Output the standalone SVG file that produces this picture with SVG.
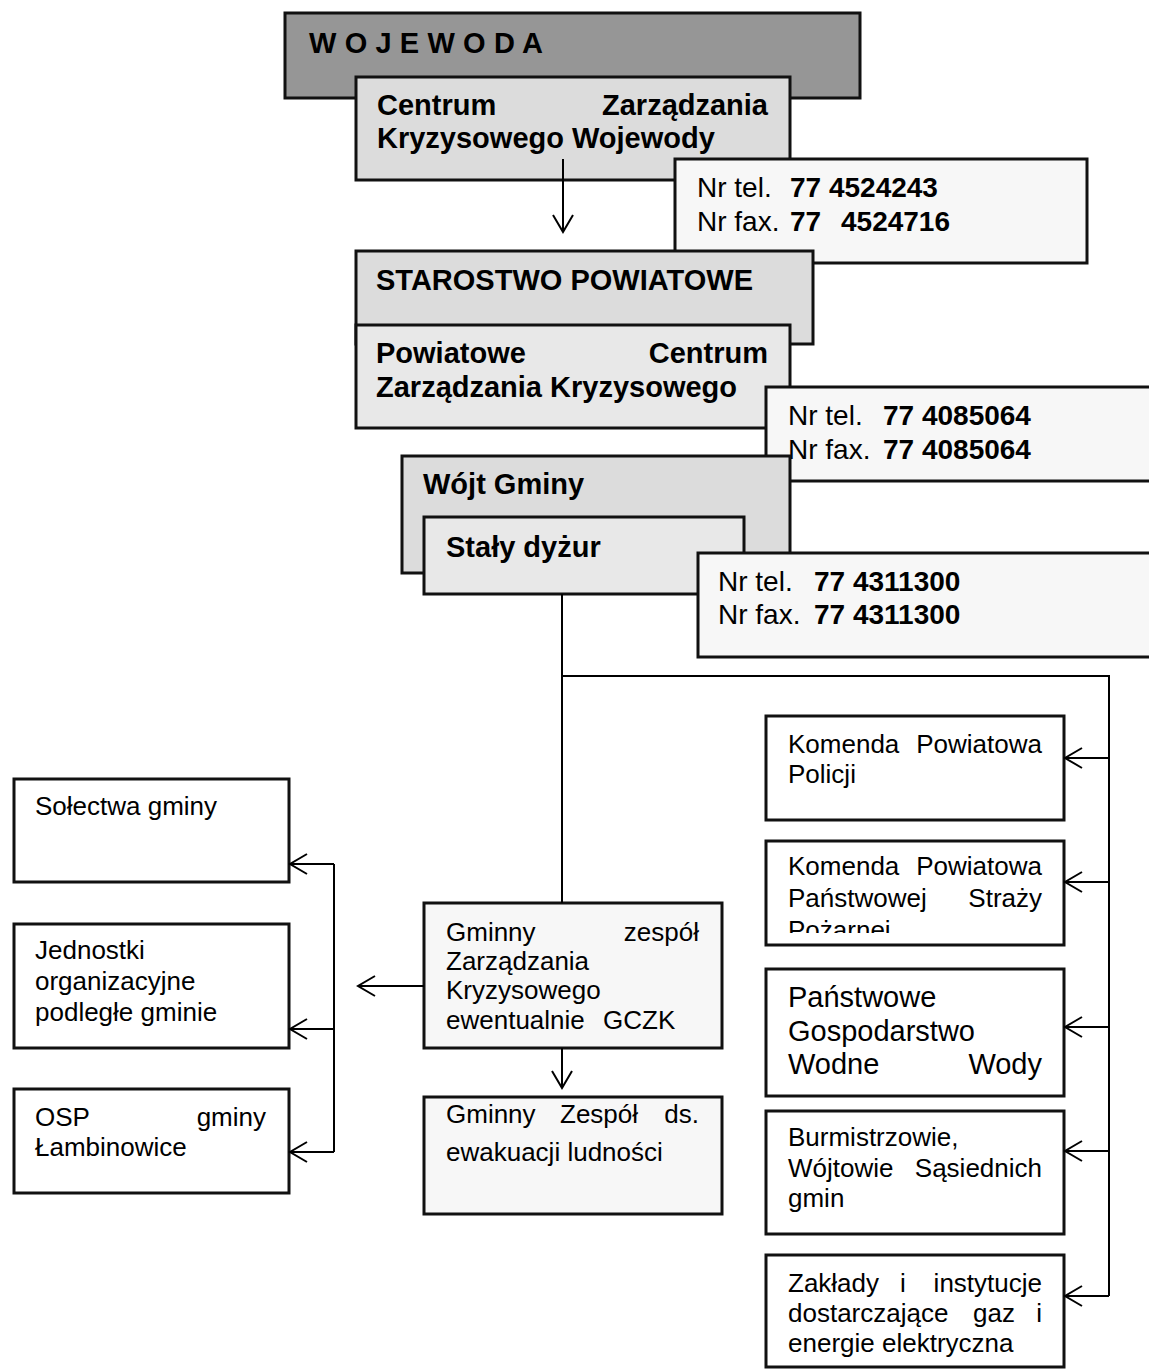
<svg xmlns="http://www.w3.org/2000/svg" width="1149" height="1372" viewBox="0 0 1149 1372">
<style>
.box{stroke:#111;stroke-width:3}
.dark{fill:#969696}
.mid{fill:#dcdcdc}
.light{fill:#e8e8e8}
.pale{fill:#f7f7f7}
.white{fill:#ffffff}
text{font-family:"Liberation Sans",Arial,sans-serif;fill:#000}
.h{font-size:29px;font-weight:bold}
.t{font-size:26px}
.t29{font-size:29px}
.p{font-size:28px}
.b{font-weight:bold}
.end{text-anchor:end}
.conn line,.conn polyline{stroke:#000;stroke-width:2;fill:none}
</style>
<defs>
<marker id="v" markerUnits="userSpaceOnUse" markerWidth="20" markerHeight="22" refX="18" refY="11" orient="auto" overflow="visible">
<path d="M1,1 L18,11 L1,21" fill="none" stroke="#000" stroke-width="2"/>
</marker>
<clipPath id="clipPsp"><rect x="766" y="841" width="298" height="92"/></clipPath>
</defs>

<g id="wojewoda">
<rect class="box dark" x="285" y="13" width="575" height="85"/>
<text class="h" x="309" y="53" font-size="26" textLength="234" lengthAdjust="spacing">W O J E W O D A</text>
</g>

<g id="czk-wojewody">
<rect class="box mid" x="356" y="77" width="434" height="103"/>
<text class="h" x="377" y="115">Centrum</text>
<text class="h end" x="768" y="115">Zarządzania</text>
<text class="h" x="377" y="148">Kryzysowego Wojewody</text>
</g>

<g id="tel-wojewoda">
<rect class="box pale" x="675" y="159" width="412" height="104"/>
<text class="p" x="697" y="197">Nr tel.<tspan class="b" x="790">77 4524243</tspan></text>
<text class="p" x="697" y="231">Nr fax.<tspan class="b" x="790">77</tspan><tspan class="b" x="841">4524716</tspan></text>
</g>

<g id="starostwo">
<rect class="box mid" x="356" y="251" width="457" height="93"/>
<text class="h" x="376" y="290">STAROSTWO POWIATOWE</text>
</g>

<g id="pczk">
<rect class="box light" x="356" y="325" width="434" height="103"/>
<text class="h" x="376" y="363">Powiatowe</text>
<text class="h end" x="768" y="363">Centrum</text>
<text class="h" x="376" y="397">Zarządzania Kryzysowego</text>
</g>

<g id="tel-powiat">
<rect class="box pale" x="766" y="387" width="400" height="94"/>
<text class="p" x="788" y="425">Nr tel.<tspan class="b" x="883">77 4085064</tspan></text>
<text class="p" x="788" y="459">Nr fax.<tspan class="b" x="883">77 4085064</tspan></text>
</g>

<g id="wojt">
<rect class="box mid" x="402" y="456" width="388" height="117"/>
<text class="h" x="423" y="494">Wójt Gminy</text>
</g>

<g id="staly-dyzur">
<rect class="box light" x="424" y="517" width="320" height="77"/>
<text class="h" x="446" y="557">Stały dyżur</text>
</g>

<g id="tel-gmina">
<rect class="box pale" x="698" y="553" width="460" height="104"/>
<text class="p" x="718" y="591">Nr tel.<tspan class="b" x="814">77 4311300</tspan></text>
<text class="p" x="718" y="624">Nr fax.<tspan class="b" x="814">77 4311300</tspan></text>
</g>

<g id="solectwa">
<rect class="box white" x="14" y="779" width="275" height="103"/>
<text class="t" x="35" y="815">Sołectwa gminy</text>
</g>

<g id="jednostki">
<rect class="box white" x="14" y="924" width="275" height="124"/>
<text class="t" x="35" y="959">Jednostki</text>
<text class="t" x="35" y="990">organizacyjne</text>
<text class="t" x="35" y="1021">podległe gminie</text>
</g>

<g id="osp">
<rect class="box white" x="14" y="1089" width="275" height="104"/>
<text class="t" x="35" y="1126">OSP</text>
<text class="t end" x="266" y="1126">gminy</text>
<text class="t" x="35" y="1156">Łambinowice</text>
</g>

<g id="gzk">
<rect class="box pale" x="424" y="903" width="298" height="145"/>
<text class="t" x="446" y="941">Gminny</text>
<text class="t end" x="699" y="941">zespół</text>
<text class="t" x="446" y="970">Zarządzania</text>
<text class="t" x="446" y="999">Kryzysowego</text>
<text class="t" x="446" y="1029">ewentualnie<tspan x="603">GCZK</tspan></text>
</g>

<g id="ewakuacja">
<rect class="box pale" x="424" y="1097" width="298" height="117"/>
<text class="t" x="446" y="1123">Gminny</text>
<text class="t" x="560" y="1123">Zespół</text>
<text class="t end" x="699" y="1123">ds.</text>
<text class="t" x="446" y="1161">ewakuacji ludności</text>
</g>

<g id="policja">
<rect class="box white" x="766" y="716" width="298" height="104"/>
<text class="t" x="788" y="753">Komenda</text>
<text class="t end" x="1042" y="753">Powiatowa</text>
<text class="t" x="788" y="783">Policji</text>
</g>

<g id="psp">
<rect class="box white" x="766" y="841" width="298" height="104"/>
<g clip-path="url(#clipPsp)">
<text class="t" x="788" y="875">Komenda</text>
<text class="t end" x="1042" y="875">Powiatowa</text>
<text class="t" x="788" y="907">Państwowej</text>
<text class="t end" x="1042" y="907">Straży</text>
<text class="t" x="788" y="939">Pożarnej</text>
</g>
</g>

<g id="pgw">
<rect class="box white" x="766" y="969" width="298" height="127"/>
<text class="t29" x="788" y="1007">Państwowe</text>
<text class="t29" x="788" y="1041">Gospodarstwo</text>
<text class="t29" x="788" y="1074">Wodne</text>
<text class="t29 end" x="1042" y="1074">Wody</text>
</g>

<g id="burmistrzowie">
<rect class="box white" x="766" y="1111" width="298" height="123"/>
<text class="t" x="788" y="1146">Burmistrzowie,</text>
<text class="t" x="788" y="1177">Wójtowie</text>
<text class="t end" x="1042" y="1177">Sąsiednich</text>
<text class="t" x="788" y="1207">gmin</text>
</g>

<g id="zaklady">
<rect class="box white" x="766" y="1255" width="298" height="112"/>
<text class="t" x="788" y="1292">Zakłady</text>
<text class="t" x="900" y="1292">i</text>
<text class="t end" x="1042" y="1292">instytucje</text>
<text class="t" x="788" y="1322">dostarczające</text>
<text class="t" x="973" y="1322">gaz</text>
<text class="t end" x="1042" y="1322">i</text>
<text class="t" x="788" y="1352">energie elektryczna</text>
</g>

<g id="connectors" class="conn">
<line x1="563" y1="159" x2="563" y2="232" marker-end="url(#v)"/>
<line x1="562" y1="594" x2="562" y2="903"/>
<polyline points="562,676 1109,676 1109,1296"/>
<line x1="1109" y1="758" x2="1065" y2="758" marker-end="url(#v)"/>
<line x1="1109" y1="882" x2="1065" y2="882" marker-end="url(#v)"/>
<line x1="1109" y1="1027" x2="1065" y2="1027" marker-end="url(#v)"/>
<line x1="1109" y1="1151" x2="1065" y2="1151" marker-end="url(#v)"/>
<line x1="1109" y1="1296" x2="1065" y2="1296" marker-end="url(#v)"/>
<line x1="424" y1="986" x2="358" y2="986" marker-end="url(#v)"/>
<line x1="334" y1="864" x2="334" y2="1152"/>
<line x1="334" y1="864" x2="290" y2="864" marker-end="url(#v)"/>
<line x1="334" y1="1029" x2="290" y2="1029" marker-end="url(#v)"/>
<line x1="334" y1="1152" x2="290" y2="1152" marker-end="url(#v)"/>
<line x1="562" y1="1048" x2="562" y2="1088" marker-end="url(#v)"/>
</g>
</svg>
